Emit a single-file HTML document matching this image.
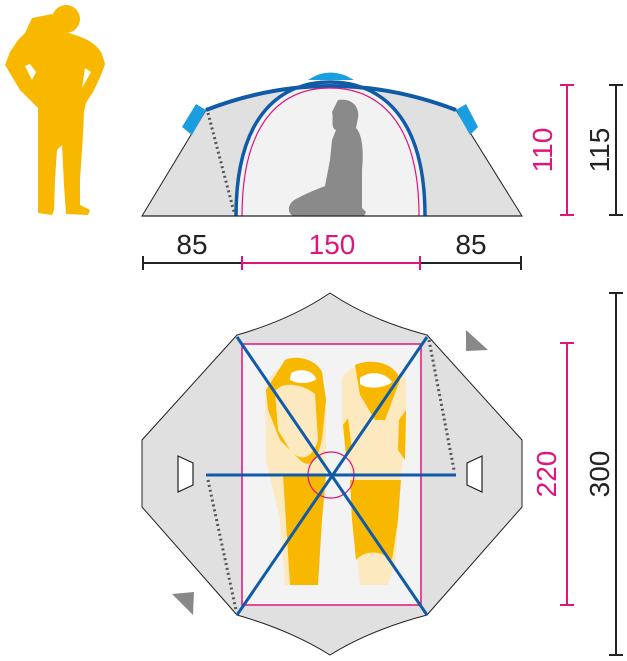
<!DOCTYPE html><html><head><style>body{margin:0;background:#fff}svg{display:block}text{font-family:"Liberation Sans",sans-serif}</style></head><body>
<svg width="627" height="661" viewBox="0 0 627 661">
<!-- person -->
<circle cx="66" cy="19" r="14" fill="#f9b800"/>
<path d="M32 18 L52 14 L60 30 L78 36 C90 40 98 46 102 54 L105 64 C101 76 97 84 93 92 L86 103 L84 112 L83 135 L80 180 L80 205 L90 210 L88 215 L66 214 L64 185 L62 145 L57 150 L55 180 L54 210 L52 215 L38 213 L38 180 L38 140 L38 108 L30 100 L20 90 L14 80 L5 65 L10 52 L18 40 L25 33 Z M25 66 L32 80 L36 72 L30 64 Z M85 68 L82 88 L91 72 Z" fill="#f9b800"/>
<!-- side view -->
<path d="M142 216 L206 110 Q330 62 456 110 L522 216 Z" fill="#e0e0e0" stroke="#222" stroke-width="1"/>
<path d="M182 127 L196 104 L206 110 L192 135 Z" fill="#1a9ee0"/>
<path d="M478 127 L466 104 L456 110 L470 135 Z" fill="#1a9ee0"/>
<path d="M308 80 Q330 65 354 80 Z" fill="#1a9ee0"/>
<path d="M236 216 C236 110 285 82 330 82 C375 82 425 110 425 216 Z" fill="#f2f2f2"/>
<path d="M206 110 Q330 62 456 110" fill="none" stroke="#0f5ba8" stroke-width="4"/>
<path d="M236 216 C236 110 285 82 330 82 C375 82 425 110 425 216" fill="none" stroke="#0f5ba8" stroke-width="3.5"/>
<path d="M242 216 C242 115 287 88 330 88 C373 88 419 115 419 216" fill="none" stroke="#e0147c" stroke-width="1.2"/>
<line x1="208" y1="113" x2="234" y2="212" stroke="#555" stroke-width="3" stroke-dasharray="2 3"/>
<path d="M338 100 C350 98 360 105 358 118 L356 128 C362 134 364 150 362 170 L362 195 L362 208 L366 212 L364 216 L293 216 C286 212 288 202 298 198 C305 194 315 190 325 186 L330 160 L332 140 L336 130 C330 128 334 118 332 112 Z" fill="#8a8a8a"/>
<line x1="142" y1="216" x2="522" y2="216" stroke="#222" stroke-width="1.2"/>
<!-- horizontal dims -->
<line x1="142" y1="263" x2="242" y2="263" stroke="#222" stroke-width="2"/>
<line x1="420" y1="263" x2="522" y2="263" stroke="#222" stroke-width="2"/>
<line x1="242" y1="263" x2="420" y2="263" stroke="#e0147c" stroke-width="2"/>
<line x1="143" y1="256" x2="143" y2="270" stroke="#222" stroke-width="2"/>
<line x1="521" y1="256" x2="521" y2="270" stroke="#222" stroke-width="2"/>
<line x1="242" y1="256" x2="242" y2="270" stroke="#e0147c" stroke-width="2"/>
<line x1="420" y1="256" x2="420" y2="270" stroke="#e0147c" stroke-width="2"/>
<text x="192" y="254" font-size="28" text-anchor="middle" fill="#222">85</text>
<text x="332" y="254" font-size="28" text-anchor="middle" fill="#e0147c">150</text>
<text x="471" y="254" font-size="28" text-anchor="middle" fill="#222">85</text>
<!-- vertical dims -->
<line x1="616" y1="85" x2="616" y2="215" stroke="#222" stroke-width="2"/>
<line x1="609" y1="85" x2="623" y2="85" stroke="#222" stroke-width="2"/>
<line x1="609" y1="215" x2="623" y2="215" stroke="#222" stroke-width="2"/>
<line x1="567" y1="85" x2="567" y2="215" stroke="#e0147c" stroke-width="2"/>
<line x1="560" y1="85" x2="574" y2="85" stroke="#e0147c" stroke-width="2"/>
<line x1="560" y1="215" x2="574" y2="215" stroke="#e0147c" stroke-width="2"/>
<text transform="translate(609,150) rotate(-90)" font-size="28" text-anchor="middle" fill="#222">115</text>
<text transform="translate(552,150) rotate(-90)" font-size="28" text-anchor="middle" fill="#e0147c">110</text>
<line x1="616" y1="293" x2="616" y2="655" stroke="#222" stroke-width="2"/>
<line x1="609" y1="293" x2="623" y2="293" stroke="#222" stroke-width="2"/>
<line x1="609" y1="655" x2="623" y2="655" stroke="#222" stroke-width="2"/>
<line x1="567" y1="343" x2="567" y2="605" stroke="#e0147c" stroke-width="2"/>
<line x1="560" y1="343" x2="574" y2="343" stroke="#e0147c" stroke-width="2"/>
<line x1="560" y1="605" x2="574" y2="605" stroke="#e0147c" stroke-width="2"/>
<text transform="translate(609,474) rotate(-90)" font-size="28" text-anchor="middle" fill="#222">300</text>
<text transform="translate(556,474) rotate(-90)" font-size="28" text-anchor="middle" fill="#e0147c">220</text>
<!-- floor plan -->
<path d="M237 335 Q290 320 330 293 Q370 320 427 335 L522 440 L522 507 L427 615 Q370 630 330 655 Q290 630 237 615 L142 507 L142 440 Z" fill="#e0e0e0" stroke="#222" stroke-width="1"/>
<rect x="242" y="344" width="179" height="261" fill="#f3f3f3" stroke="#e0147c" stroke-width="1.5"/>
<!-- sleeping bags -->
<path d="M265 392 C268 360 312 355 322 372 L326 400 L326 470 L318 520 L316 585 L285 585 L280 520 L266 460 Z" fill="#fde9c0"/>
<path d="M285 360 C295 355 315 358 322 372 L326 400 L323 430 C320 460 310 470 300 460 L280 440 L268 410 L266 390 Z" fill="#f9b800"/>
<path d="M275 392 C280 382 300 382 315 394 L318 440 C312 460 300 462 290 450 L278 430 Z" fill="#fde9c0"/>
<path d="M283 475 L326 475 L322 520 L318 585 L290 585 Z" fill="#f9b800"/>
<path d="M290 372 C300 366 315 368 318 380 C310 386 295 386 288 380 Z" fill="#fff" stroke="#f9b800" stroke-width="3"/>
<path d="M342 380 C348 358 392 360 406 380 L406 440 L400 480 L396 560 L388 585 L360 585 L355 540 L350 470 L342 420 Z" fill="#fde9c0"/>
<path d="M355 365 C370 358 395 362 400 380 L385 420 L375 420 L360 395 Z" fill="#f9b800"/>
<path d="M350 480 L401 480 L398 520 L392 560 C380 550 365 550 356 560 L352 520 Z" fill="#f9b800"/>
<path d="M399 420 L406 410 L405 460 L398 450 Z" fill="#f9b800"/>
<path d="M343 425 L348 418 L352 450 L346 455 Z" fill="#f9b800"/>
<path d="M360 378 C370 370 385 372 392 382 C385 388 368 390 360 384 Z" fill="#fff"/>
<circle cx="331" cy="475" r="23" fill="none" stroke="#e0147c" stroke-width="1.2"/>
<line x1="237" y1="337" x2="427" y2="615" stroke="#0f5ba8" stroke-width="3"/>
<line x1="427" y1="337" x2="237" y2="615" stroke="#0f5ba8" stroke-width="3"/>
<line x1="206" y1="475" x2="456" y2="475" stroke="#0f5ba8" stroke-width="3"/>
<line x1="429" y1="340" x2="454" y2="470" stroke="#555" stroke-width="3" stroke-dasharray="2 3"/>
<line x1="208" y1="480" x2="236" y2="610" stroke="#555" stroke-width="3" stroke-dasharray="2 3"/>
<path d="M178 456 L193 463 L193 485 L178 492 Z" fill="#fff" stroke="#222" stroke-width="1.2"/>
<path d="M482 456 L467 463 L467 485 L482 492 Z" fill="#fff" stroke="#222" stroke-width="1.2"/>
<path d="M466 330 L488 350 L466 351 Z" fill="#888"/>
<path d="M172 594 L194 592 L193 615 Z" fill="#888"/>
</svg></body></html>
